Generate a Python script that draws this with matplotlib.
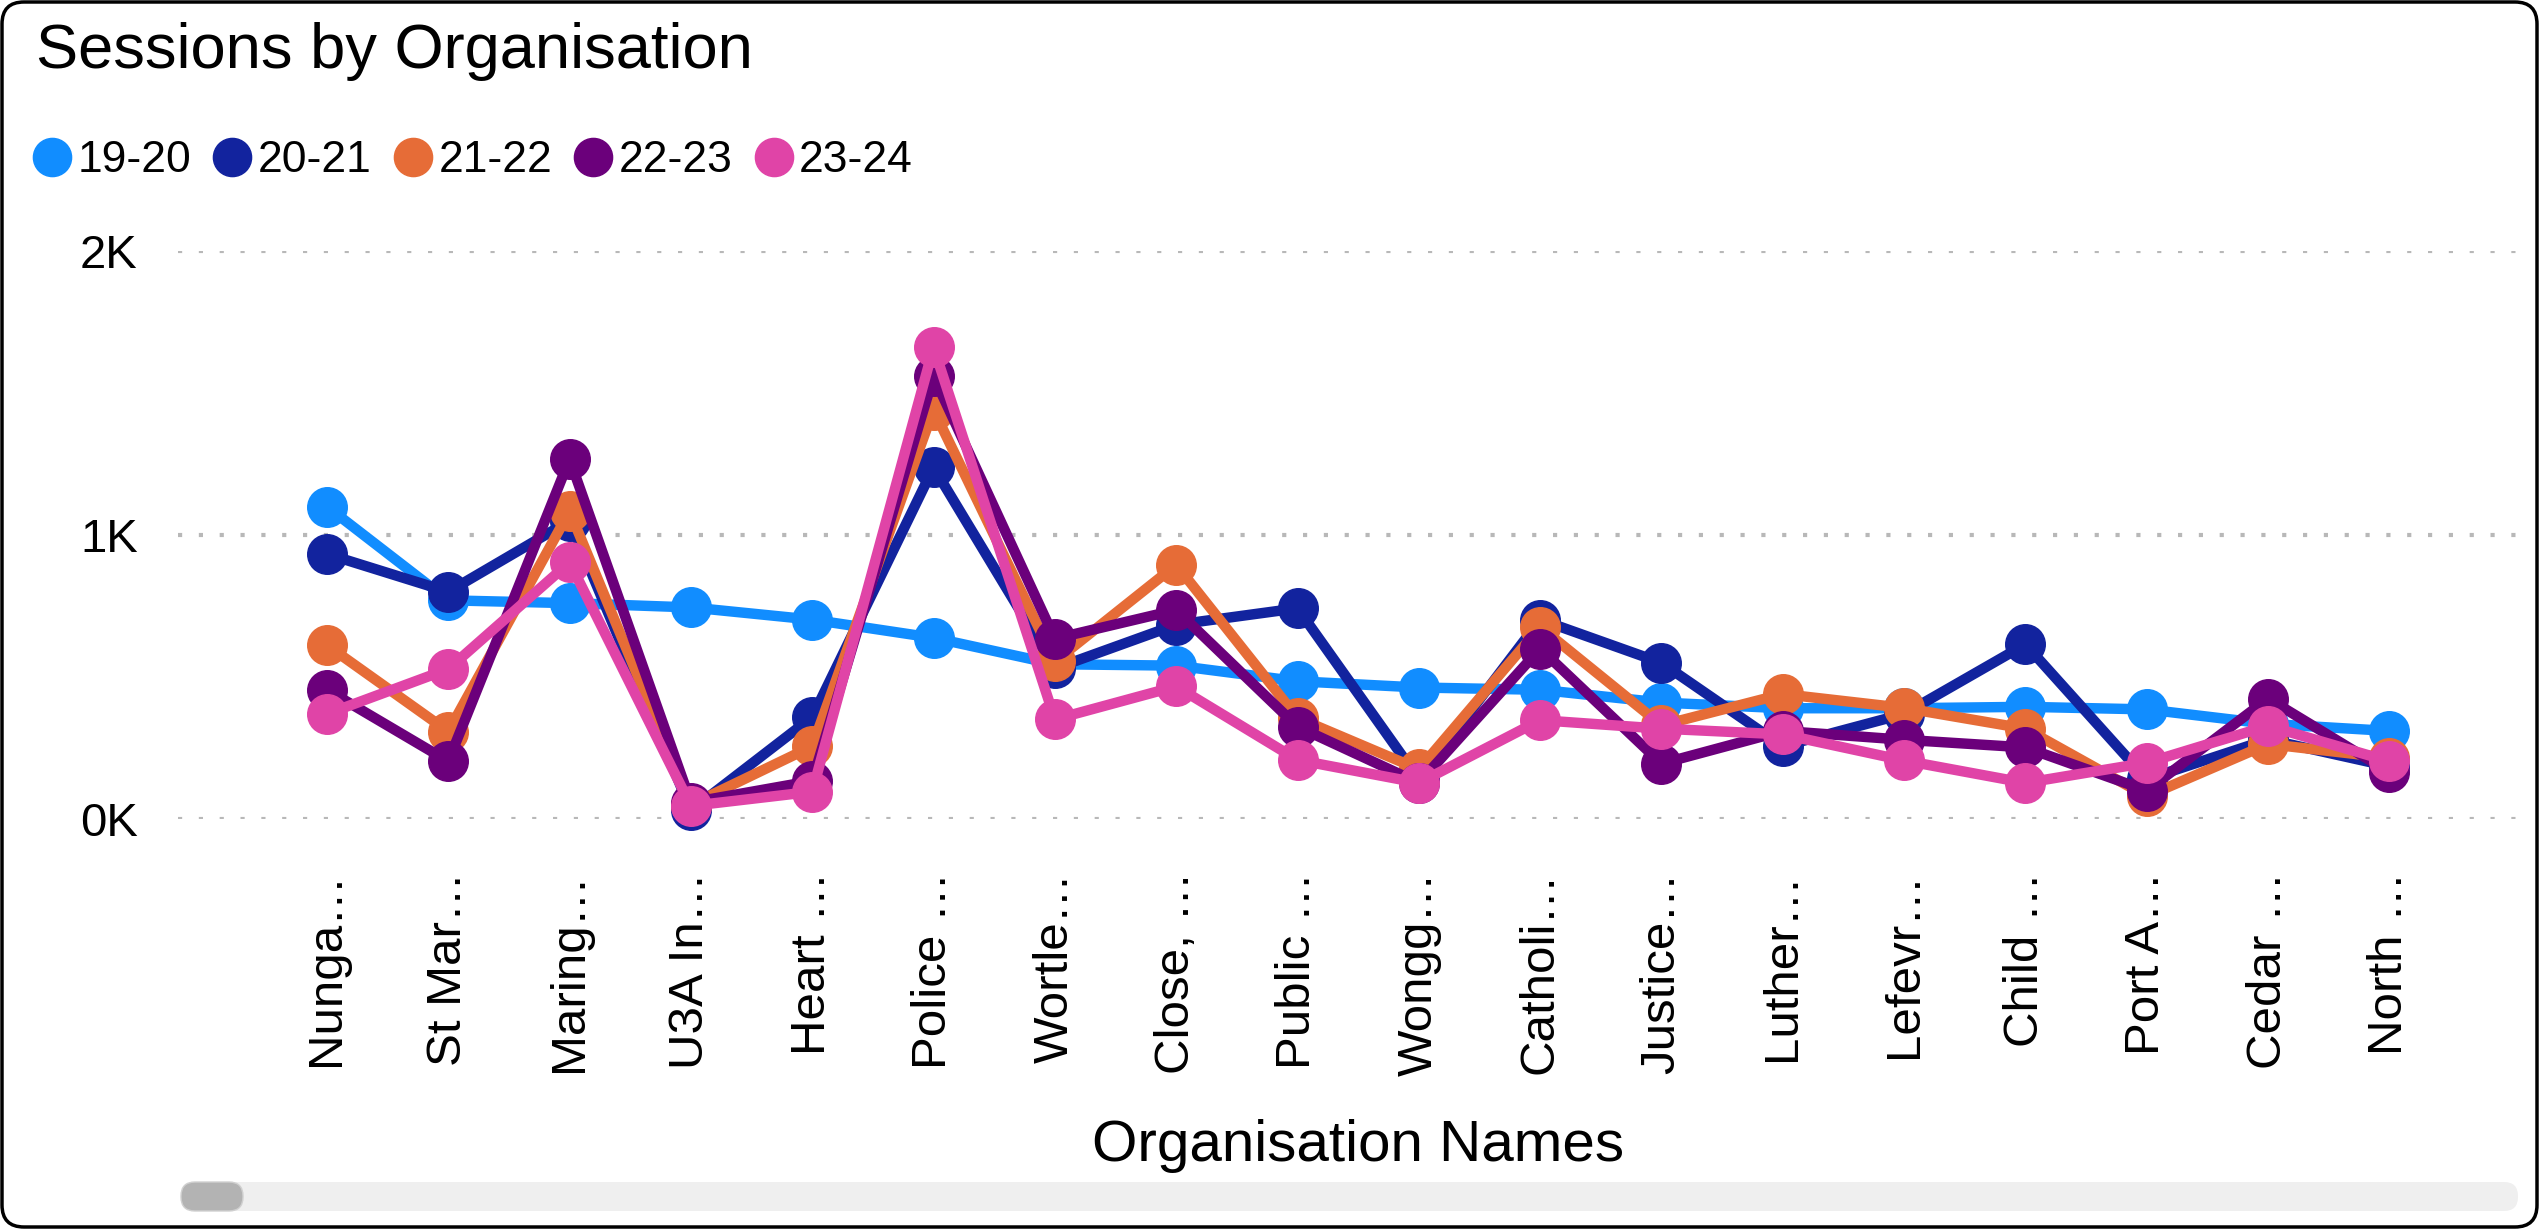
import matplotlib
matplotlib.use("Agg")
import matplotlib.pyplot as plt
from matplotlib.lines import Line2D
from matplotlib.patches import FancyBboxPatch

plt.rcParams['font.family'] = ['Liberation Sans', 'DejaVu Sans']

# data
orgs = ["Nunga…", "St Mar…", "Maring…", "U3A In…", "Heart …", "Police …",
        "Wortle…", "Close, …", "Public …", "Wongg…", "Catholi…", "Justice…",
        "Luther…", "Lefevr…", "Child …", "Port A…", "Cedar …", "North …"]
years = ["19-20", "20-21", "21-22", "22-23", "23-24"]
s_19_20 = [1100, 770, 760, 745, 702, 638, 545, 540, 485, 463, 455, 410, 390, 390, 395, 386, 335, 310]
s_20_21 = [933, 800, 1050, 30, 359, 1238, 530, 684, 742, 140, 702, 550, 256, 370, 615, 140, 280, 185]
s_21_22 = [612, 308, 1084, 50, 256, 1441, 555, 895, 356, 175, 676, 330, 440, 391, 318, 80, 264, 215]
s_22_23 = [455, 203, 1267, 58, 134, 1559, 635, 736, 325, 127, 600, 195, 310, 279, 252, 100, 424, 165]
s_23_24 = [370, 528, 904, 46, 96, 1661, 351, 467, 208, 127, 348, 318, 298, 206, 127, 198, 328, 203]
series = [s_19_20, s_20_21, s_21_22, s_22_23, s_23_24]
colours = ['#118DFF', '#12239E', '#E66C37', '#6B007B', '#E044A7']

W, H = 2539, 1229
fig = plt.figure(figsize=(W / 100, H / 100), dpi=100)

ax = fig.add_axes([178 / W, 1 - 819 / H, (2518 - 178) / W, (819 - 251) / H])
x = list(range(len(orgs)))
for vals, c in zip(series, colours):
    ax.plot(x, vals, color=c, lw=7.5, marker='o', markersize=28.5,
            clip_on=False, solid_joinstyle='round')

ax.set_xlim(-1.228, 18.06)
ax.set_ylim(0, 2000)
ax.set_yticks([0, 1000, 2000])
ax.set_yticklabels(['0K', '1K', '2K'])
ax.set_xticks(x)
ax.set_xticklabels(orgs, rotation=90, va='top', ha='center')
ax.tick_params(axis='x', length=0, pad=38, labelsize=35.5)
ax.tick_params(axis='y', length=0, pad=29, labelsize=34)
for side in ax.spines.values():
    side.set_visible(False)
ax.grid(axis='y', color='#b8b8b8', lw=3, linestyle=(0, (1, 4.0)))
ax.set_axisbelow(True)

# title and axis title
fig.text(36 / W, 1 - 68 / H, 'Sessions by Organisation', fontsize=45.5,
         va='baseline', ha='left')
fig.text(1358 / W, 1 - 1146 / H, 'Organisation Names', fontsize=42,
         ha='center', va='center')

# legend with dot handles
handles = [Line2D([], [], marker='o', ls='none', color=c, markersize=27.5) for c in colours]
fig.legend(handles, years, loc='center left', bbox_to_anchor=(33 / W, 1 - 161 / H),
           ncol=5, frameon=False, fontsize=32, handlelength=0.85,
           handletextpad=0.15, columnspacing=0.5, borderpad=0, borderaxespad=0)

# scrollbar at the bottom
px = fig.dpi_scale_trans
fig.patches.append(FancyBboxPatch((1.81, (H - 1211) / 100), 23.37, 0.29,
                                  boxstyle='round,pad=0,rounding_size=0.14',
                                  transform=px, facecolor='#efefef', edgecolor='none'))
fig.patches.append(FancyBboxPatch((1.81, (H - 1211) / 100), 0.62, 0.29,
                                  boxstyle='round,pad=0,rounding_size=0.14',
                                  transform=px, facecolor='#b3b3b3', edgecolor='#d0d0d0', lw=1))

# rounded frame around the visual
fig.patches.append(FancyBboxPatch((0.02, 0.02), W / 100 - 0.04, H / 100 - 0.04,
                                  boxstyle='round,pad=0,rounding_size=0.22',
                                  transform=px, facecolor='none', edgecolor='black', lw=2.5))

fig.savefig('out.png', dpi=100)
